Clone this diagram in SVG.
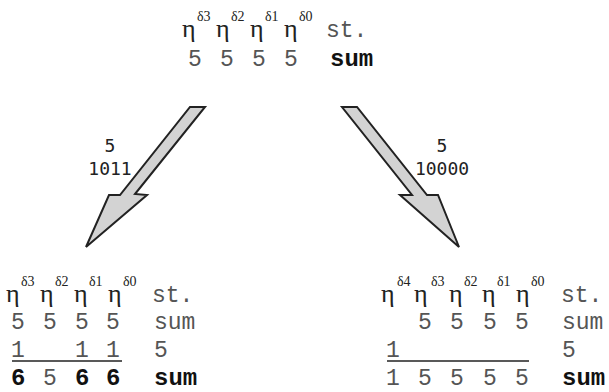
<svg xmlns="http://www.w3.org/2000/svg" width="609" height="392" viewBox="0 0 609 392">
<style>
.eta{font-family:"Liberation Serif",serif;font-size:26px;fill:#222}
.sup{font-family:"Liberation Serif",serif;font-size:14px;fill:#222}
.m{font-family:"Liberation Mono",monospace;font-size:23px;fill:#555}
.b{font-family:"Liberation Mono",monospace;font-size:24px;font-weight:bold;fill:#111}
.lbl{font-family:"DejaVu Sans Mono",monospace;font-size:18px;fill:#222;text-anchor:middle}
.arrow{fill:#d3d3d3;stroke:#222;stroke-width:2;stroke-linejoin:miter}
.rule{stroke:#222;stroke-width:1.5}
</style>
<rect width="609" height="392" fill="#fff"/>
<g id="top">
<text class="eta" x="182" y="37">η</text><text class="sup" x="197" y="21">δ3</text>
<text class="eta" x="216" y="37">η</text><text class="sup" x="231" y="21">δ2</text>
<text class="eta" x="250" y="37">η</text><text class="sup" x="265" y="21">δ1</text>
<text class="eta" x="284" y="37">η</text><text class="sup" x="299" y="21">δ0</text>
<text class="m" x="326" y="37">st.</text>
<text class="m" x="188" y="66">5</text><text class="m" x="220" y="66">5</text><text class="m" x="252" y="66">5</text><text class="m" x="284" y="66">5</text>
<text class="b" x="330" y="66">sum</text>
</g>
<g id="left">
<text class="eta" x="6" y="302">η</text><text class="sup" x="21" y="286">δ3</text>
<text class="eta" x="40" y="302">η</text><text class="sup" x="55" y="286">δ2</text>
<text class="eta" x="74" y="302">η</text><text class="sup" x="89" y="286">δ1</text>
<text class="eta" x="108" y="302">η</text><text class="sup" x="123" y="286">δ0</text>
<text class="m" x="152" y="302">st.</text>
<text class="m" x="11" y="329">5</text><text class="m" x="43" y="329">5</text><text class="m" x="75" y="329">5</text><text class="m" x="106" y="329">5</text>
<text class="m" x="154" y="329">sum</text>
<text class="m" x="11" y="357">1</text><text class="m" x="75" y="357">1</text><text class="m" x="106" y="357">1</text>
<text class="m" x="154" y="357">5</text>
<line class="rule" x1="12" y1="361" x2="122" y2="361"/>
<text class="b" x="11" y="385">6</text><text class="m" x="43" y="385">5</text><text class="b" x="75" y="385">6</text><text class="b" x="106" y="385">6</text>
<text class="b" x="154" y="385">sum</text>
</g>
<g id="right">
<text class="eta" x="381" y="302">η</text><text class="sup" x="397" y="286">δ4</text>
<text class="eta" x="414" y="302">η</text><text class="sup" x="431" y="286">δ3</text>
<text class="eta" x="449" y="302">η</text><text class="sup" x="464" y="286">δ2</text>
<text class="eta" x="482" y="302">η</text><text class="sup" x="497" y="286">δ1</text>
<text class="eta" x="516" y="302">η</text><text class="sup" x="531" y="286">δ0</text>
<text class="m" x="561" y="302">st.</text>
<text class="m" x="418" y="329">5</text><text class="m" x="450" y="329">5</text><text class="m" x="483" y="329">5</text><text class="m" x="515" y="329">5</text>
<text class="m" x="562" y="329">sum</text>
<text class="m" x="386" y="357">1</text>
<text class="m" x="562" y="357">5</text>
<line class="rule" x1="387" y1="361" x2="529" y2="361"/>
<text class="m" x="386" y="385">1</text><text class="m" x="418" y="385">5</text><text class="m" x="450" y="385">5</text><text class="m" x="483" y="385">5</text><text class="m" x="515" y="385">5</text>
<text class="b" x="562" y="385">sum</text>
</g>
<g id="connectors">
<polygon class="arrow" points="190,107 205,107 135,194 147,195 86,247 109,195 120,195"/>
<polygon class="arrow" points="342,107 357,107 427,195 438,195 459,247 400,195 412,195"/>
<text class="lbl" x="110" y="152">5</text>
<text class="lbl" x="110" y="175">1011</text>
<text class="lbl" x="442" y="152">5</text>
<text class="lbl" x="442" y="175">10000</text>
</g>
</svg>
